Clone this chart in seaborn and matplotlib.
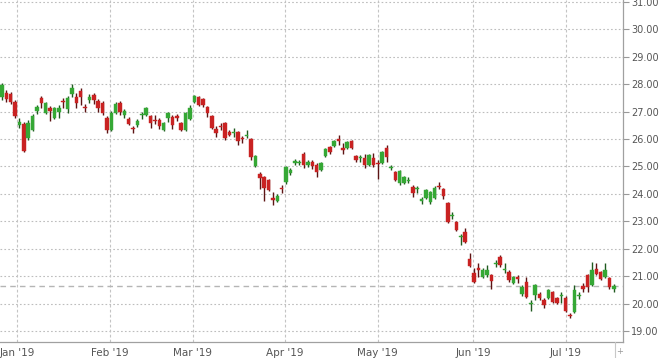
import matplotlib
matplotlib.use("Agg")
import matplotlib.pyplot as plt
import seaborn as sns
import numpy as np
import pandas as pd
from matplotlib.lines import Line2D

opens = [27.53, 27.68, 27.64, 27.35, 26.51, 26.55, 26.04, 26.33, 27.02, 27.50,
         26.95, 27.13, 26.77, 26.99, 27.39, 27.10, 27.64, 27.53, 27.75, 27.17,
         27.42, 27.61, 27.39, 27.31, 26.77, 26.33, 26.95, 27.31, 26.88, 26.73,
         26.40, 26.51, 26.88, 26.88, 26.84, 26.70, 26.70, 26.33, 26.77, 26.80,
         26.84, 26.58, 26.33, 26.73, 27.35, 27.53, 27.46, 27.17, 26.84, 26.37,
         26.48, 26.58, 26.26, 26.22, 26.26, 26.04, 26.11, 26.00, 25.02, 24.73,
         24.62, 24.51, 23.85, 23.74, 24.22, 24.44, 24.76, 25.13, 25.13, 25.46,
         25.06, 25.16, 25.06, 24.87, 25.38, 25.71, 25.75, 26.00, 25.68, 25.68,
         25.93, 25.38, 25.31, 25.31, 25.06, 25.31, 25.13, 25.13, 25.68, 24.95,
         24.80, 24.40, 24.40, 24.47, 24.25, 24.18, 23.74, 23.85, 23.71, 23.85,
         24.29, 24.18, 23.67, 23.20, 22.98, 22.43, 22.61, 21.63, 21.12, 21.30,
         20.97, 21.04, 21.04, 21.44, 21.70, 21.23, 21.15, 20.75, 20.97, 20.35,
         20.79, 19.99, 20.31, 20.35, 20.13, 20.20, 20.42, 20.20, 20.28, 20.20,
         19.59, 19.70, 20.28, 20.64, 21.04, 20.68, 21.26, 21.15, 20.97, 20.93,
         20.55]
highs = [28.04, 27.79, 27.72, 27.42, 26.77, 26.62, 26.70, 26.91, 27.24, 27.57,
         27.35, 27.20, 27.17, 27.24, 27.50, 27.57, 28.01, 27.68, 27.86, 27.28,
         27.64, 27.68, 27.46, 27.39, 26.84, 27.02, 27.35, 27.39, 27.10, 26.80,
         26.48, 26.73, 26.99, 27.17, 26.88, 26.88, 26.77, 26.62, 26.99, 26.88,
         26.91, 26.62, 26.99, 27.24, 27.61, 27.57, 27.50, 27.20, 26.88, 26.48,
         26.58, 26.62, 26.33, 26.40, 26.30, 26.11, 26.33, 26.04, 25.42, 24.80,
         24.65, 24.54, 24.07, 24.00, 24.33, 25.02, 24.95, 25.27, 25.24, 25.53,
         25.24, 25.24, 25.13, 25.16, 25.68, 25.75, 25.97, 26.15, 25.86, 25.93,
         25.97, 25.42, 25.42, 25.46, 25.46, 25.49, 25.24, 25.57, 25.79, 25.06,
         24.84, 24.87, 24.65, 24.62, 24.33, 24.29, 23.89, 24.18, 24.11, 24.29,
         24.44, 24.22, 23.71, 23.34, 23.01, 22.54, 22.76, 21.84, 21.30, 21.48,
         21.30, 21.41, 21.08, 21.59, 21.77, 21.48, 21.23, 21.01, 21.04, 20.68,
         20.97, 20.13, 20.71, 20.42, 20.20, 20.53, 20.46, 20.24, 20.42, 20.28,
         19.66, 20.68, 20.42, 20.75, 21.08, 21.52, 21.48, 21.19, 21.48, 20.97,
         20.71]
lows = [27.42, 27.35, 27.28, 26.77, 26.40, 25.54, 25.97, 26.30, 26.91, 27.13,
        26.91, 26.66, 26.73, 26.77, 27.13, 26.95, 27.53, 27.13, 27.24, 26.99,
        27.31, 27.28, 26.99, 26.88, 26.22, 26.30, 26.91, 26.88, 26.77, 26.51,
        26.22, 26.44, 26.73, 26.84, 26.40, 26.55, 26.37, 26.30, 26.62, 26.37,
        26.66, 26.30, 26.30, 26.70, 27.31, 27.20, 27.17, 26.80, 26.37, 26.08,
        26.33, 25.97, 26.11, 26.08, 25.79, 25.86, 26.04, 25.24, 24.98, 24.18,
        23.74, 24.11, 23.60, 23.71, 24.04, 24.36, 24.69, 25.06, 25.06, 24.95,
        24.98, 24.91, 24.62, 24.84, 25.35, 25.46, 25.71, 25.79, 25.46, 25.64,
        25.64, 25.16, 25.16, 24.95, 25.02, 24.98, 24.55, 25.09, 25.16, 24.87,
        24.47, 24.33, 24.36, 24.40, 23.89, 24.04, 23.63, 23.82, 23.63, 23.82,
        24.18, 23.82, 22.94, 23.09, 22.65, 22.14, 22.21, 21.33, 20.75, 20.97,
        20.93, 20.97, 20.53, 21.33, 21.33, 21.12, 20.79, 20.71, 20.75, 20.28,
        20.20, 19.73, 20.13, 20.13, 19.84, 20.17, 20.02, 19.99, 20.02, 19.70,
        19.48, 19.66, 20.17, 20.42, 20.42, 20.64, 21.04, 20.86, 20.93, 20.53,
        20.42]
closes = [27.97, 27.46, 27.35, 26.84, 26.62, 25.56, 26.58, 26.84, 27.17, 27.31,
          27.31, 27.02, 27.13, 27.13, 27.35, 27.50, 27.86, 27.31, 27.53, 27.13,
          27.53, 27.42, 27.13, 26.95, 26.33, 26.95, 27.28, 26.99, 27.02, 26.55,
          26.37, 26.66, 26.91, 27.13, 26.58, 26.66, 26.48, 26.58, 26.95, 26.51,
          26.77, 26.33, 26.95, 27.13, 27.57, 27.24, 27.24, 26.95, 26.40, 26.22,
          26.44, 26.04, 26.15, 26.26, 25.93, 26.00, 26.15, 25.35, 25.38, 24.58,
          24.22, 24.14, 23.78, 23.92, 24.18, 24.98, 24.87, 25.20, 25.16, 25.06,
          25.16, 25.02, 24.80, 25.13, 25.64, 25.53, 25.93, 25.93, 25.60, 25.90,
          25.68, 25.24, 25.35, 25.06, 25.42, 25.06, 25.09, 25.53, 25.35, 24.98,
          24.51, 24.84, 24.62, 24.51, 24.04, 24.22, 23.82, 24.14, 24.07, 24.22,
          24.25, 23.92, 22.98, 23.23, 22.68, 22.47, 22.25, 21.37, 20.79, 21.23,
          21.23, 21.23, 20.82, 21.48, 21.41, 21.26, 20.86, 20.97, 20.90, 20.61,
          20.24, 20.02, 20.68, 20.20, 19.95, 20.50, 20.05, 20.02, 20.31, 19.73,
          19.55, 20.50, 20.31, 20.53, 20.61, 21.23, 21.08, 20.90, 21.23, 20.61,
          20.63]

month_labels = ["Jan '19", "Feb '19", "Mar '19", "Apr '19", "May '19", "Jun '19", "Jul '19"]
month_pos = [3.4, 24.7, 43.7, 64.8, 86.0, 107.8, 129.0]
y_ticks = [19, 20, 21, 22, 23, 24, 25, 26, 27, 28, 29, 30, 31]

df = pd.DataFrame({"open": opens, "high": highs, "low": lows, "close": closes})
df["idx"] = np.arange(len(df))
df["up"] = df["close"] >= df["open"]

sns.set_style("white")
plt.rcParams["font.family"] = ["DejaVu Sans"]

fig = plt.figure(figsize=(6.6, 3.58), dpi=100)
ax = fig.add_axes([0.0, 16 / 358, 623 / 660, 342 / 358])

GREEN = "#35a835"
RED = "#c92222"
GREEN_W = "#1f5a1f"
RED_W = "#5c1414"

# grid
for yv in y_ticks:
    ax.axhline(yv, color="#bdbdbd", lw=0.8, ls=(0, (1.5, 2)), zorder=0)
for xv in month_pos:
    ax.axvline(xv, color="#c4c4c4", lw=0.8, ls=(0, (2.5, 2)), zorder=0)

cols = np.where(df["up"], GREEN, RED)
wcols = np.where(df["up"], GREEN_W, RED_W)
ax.vlines(df["idx"], df["low"], df["high"], colors=wcols, lw=1.0, zorder=2)
bottoms = np.minimum(df["open"], df["close"])
heights = np.maximum(np.abs(df["close"] - df["open"]), 0.045)
ax.bar(df["idx"], heights, bottom=bottoms, width=0.8, color=cols,
       edgecolor=cols, linewidth=0.3, zorder=3)

# last price line
ax.axhline(df["close"].iloc[-1], color="#b5b5b5", lw=1.0, ls=(0, (4, 3)), zorder=1)

ax.set_xlim(-0.46, 142.1)
ax.set_ylim(18.6, 31.07)

ax.set_xticks(month_pos)
ax.set_xticklabels(month_labels, fontsize=7.5, color="#555555")
ax.tick_params(axis="x", length=0, pad=4)

ax.yaxis.tick_right()
ax.set_yticks(y_ticks)
ax.set_yticklabels([f"{v:.2f}" for v in y_ticks], fontsize=7, color="#555555")
ax.tick_params(axis="y", length=4, width=0.8, color="#999999", pad=2)

for s in ["left", "top"]:
    ax.spines[s].set_visible(False)
for s in ["right", "bottom"]:
    ax.spines[s].set_color("#a0a0a0")
    ax.spines[s].set_linewidth(0.9)

fig.add_artist(Line2D([615 / 660, 615 / 660], [0, 16 / 358], color="#c8c8c8", lw=0.8))
fig.text(620 / 660, 6 / 358, "+", fontsize=6, color="#999999", ha="center", va="center")

fig.savefig("out.png", dpi=100)
